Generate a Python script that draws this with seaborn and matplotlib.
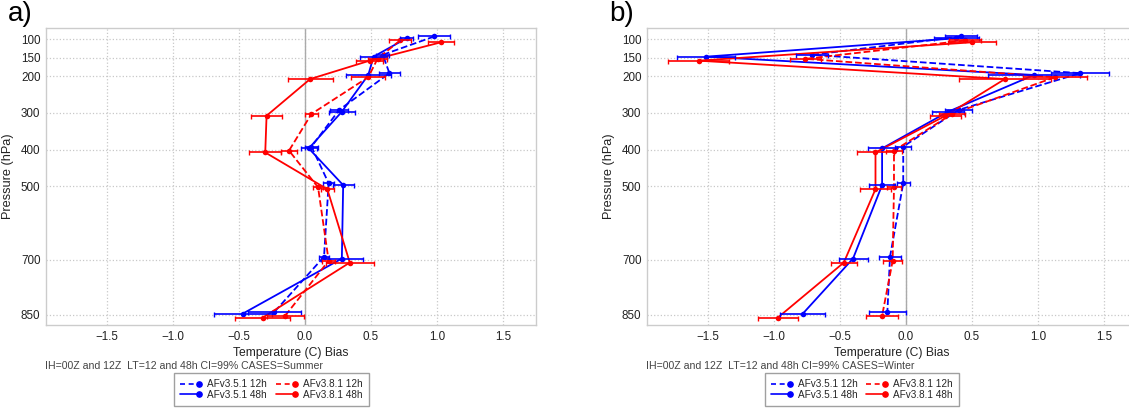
import numpy as np
import pandas as pd
import matplotlib
matplotlib.use("Agg")
import matplotlib.pyplot as plt
import seaborn as sns
from matplotlib.lines import Line2D
from matplotlib.legend_handler import HandlerBase

# ---------------- data ----------------
levels = [100, 150, 200, 300, 400, 500, 700, 850]
level_labels = ["100", "150", "200", "300", "400", "500", "700", "850"]
x_ticks = [-1.5, -1.0, -0.5, 0.0, 0.5, 1.0, 1.5]

series_names = ["AFv3.5.1 12h", "AFv3.5.1 48h", "AFv3.8.1 12h", "AFv3.8.1 48h"]

# Summer (panel a)
summer_v351_12 = [0.98, 0.59, 0.64, 0.26, 0.05, 0.18, 0.145, -0.23]
summer_v351_48 = [0.77, 0.52, 0.48, 0.28, 0.03, 0.29, 0.28, -0.47]
summer_v381_12 = [0.72, 0.55, 0.48, 0.05, -0.12, 0.10, 0.18, -0.15]
summer_v381_48 = [1.03, 0.49, 0.04, -0.29, -0.30, 0.17, 0.34, -0.32]
summer_v351_12_ci = [0.12, 0.05, 0.08, 0.07, 0.05, 0.04, 0.04, 0.20]
summer_v351_48_ci = [0.05, 0.10, 0.17, 0.10, 0.06, 0.08, 0.16, 0.22]
summer_v381_12_ci = [0.08, 0.07, 0.13, 0.05, 0.06, 0.04, 0.05, 0.14]
summer_v381_48_ci = [0.10, 0.10, 0.17, 0.12, 0.12, 0.05, 0.18, 0.21]

# Winter (panel b)
winter_v351_12 = [0.42, -0.71, 1.32, 0.40, -0.02, -0.02, -0.12, -0.14]
winter_v351_48 = [0.38, -1.51, 0.97, 0.32, -0.18, -0.18, -0.40, -0.78]
winter_v381_12 = [0.45, -0.76, 1.13, 0.35, -0.09, -0.09, -0.10, -0.18]
winter_v381_48 = [0.50, -1.57, 0.75, 0.30, -0.23, -0.23, -0.47, -0.97]
winter_v351_12_ci = [0.12, 0.12, 0.22, 0.10, 0.06, 0.05, 0.08, 0.14]
winter_v351_48_ci = [0.17, 0.22, 0.35, 0.12, 0.11, 0.10, 0.11, 0.17]
winter_v381_12_ci = [0.12, 0.12, 0.24, 0.10, 0.06, 0.05, 0.07, 0.12]
winter_v381_48_ci = [0.18, 0.23, 0.35, 0.12, 0.14, 0.12, 0.10, 0.15]

captions = ["IH=00Z and 12Z  LT=12 and 48h CI=99% CASES=Summer",
            "IH=00Z and 12Z  LT=12 and 48h CI=99% CASES=Winter"]
panel_tags = ["a)", "b)"]

# ---------------- style ----------------
sns.set_theme(style="white")
plt.rcParams["font.family"] = ["Liberation Sans", "DejaVu Sans"]

colors = {"AFv3.5.1 12h": "#0000ff", "AFv3.5.1 48h": "#0000ff",
          "AFv3.8.1 12h": "#ff0000", "AFv3.8.1 48h": "#ff0000"}
dashed = {"AFv3.5.1 12h": True, "AFv3.5.1 48h": False,
          "AFv3.8.1 12h": True, "AFv3.8.1 48h": False}
p_offset = {"AFv3.5.1 12h": -8, "AFv3.5.1 48h": -3,
            "AFv3.8.1 12h": 3, "AFv3.8.1 48h": 8}

panels = [
    (summer_v351_12, summer_v351_48, summer_v381_12, summer_v381_48,
     summer_v351_12_ci, summer_v351_48_ci, summer_v381_12_ci, summer_v381_48_ci),
    (winter_v351_12, winter_v351_48, winter_v381_12, winter_v381_48,
     winter_v351_12_ci, winter_v351_48_ci, winter_v381_12_ci, winter_v381_48_ci),
]

W, H = 1129, 409
fig = plt.figure(figsize=(W / 100, H / 100), dpi=100)
ax_rects = [[46 / W, (H - 325) / H, 490 / W, 297 / H],
            [647 / W, (H - 325) / H, 490 / W, 297 / H]]
legend_centers = [271.5 / W, 861.7 / W]
tag_pos = [(8 / W, 1 - 1 / H), (609 / W, 1 - 1 / H)]


class EndMarkerHandler(HandlerBase):
    def create_artists(self, legend, orig, xdescent, ydescent, width, height,
                       fontsize, trans):
        y = height / 2 - ydescent
        ln = Line2D([-xdescent, width - xdescent], [y, y], color=orig.get_color(),
                    linestyle=orig.get_linestyle(), linewidth=orig.get_linewidth(),
                    transform=trans)
        if orig.get_linestyle() in ("--", "dashed"):
            ln.set_dashes((3, 2.2))
        mk = Line2D([width - xdescent], [y], marker="o", markersize=3.8,
                    color=orig.get_color(), linestyle="none", transform=trans)
        return [ln, mk]


for i, pdata in enumerate(panels):
    ax = fig.add_axes(ax_rects[i])
    vals = pdata[:4]
    cis = pdata[4:]
    for name, v, ci in zip(series_names, vals, cis):
        df = pd.DataFrame({"bias": v, "p": np.array(levels, float) + p_offset[name]})
        sns.lineplot(data=df, x="bias", y="p", orient="y", sort=True, ax=ax,
                     color=colors[name], linewidth=1.3, marker="o", markersize=4,
                     markeredgewidth=0, dashes=(3, 2.2) if dashed[name] else "",
                     linestyle="--" if dashed[name] else "-", legend=False)
        ax.errorbar(df["bias"], df["p"], xerr=ci, fmt="none", ecolor=colors[name],
                    elinewidth=1.2, capsize=1.8, capthick=1.0, zorder=3)

    ax.axvline(0, color="#aaaaaa", linewidth=1.0, zorder=1)
    ax.set_xlim(-1.96, 1.75)
    ax.set_ylim(878, 69)
    ax.set_yticks(levels)
    ax.set_yticklabels(level_labels)
    ax.set_xticks(x_ticks)
    ax.grid(True, which="major", color="#c8c8c8", linestyle=":", linewidth=0.9)
    ax.tick_params(axis="both", length=0, labelsize=8.4, colors="#222222", pad=4)
    for sp in ax.spines.values():
        sp.set_color("#cccccc")
        sp.set_linewidth(1.0)
    ax.set_xlabel("Temperature (C) Bias", fontsize=8.7, color="#222222", labelpad=3)
    ax.set_ylabel("Pressure (hPa)", fontsize=9.2, color="#222222", labelpad=5)

    ax.text(-0.003, -0.121, captions[i], transform=ax.transAxes, fontsize=7.6,
            color="#444444", ha="left", va="top")
    fig.text(tag_pos[i][0], tag_pos[i][1], panel_tags[i], fontsize=20,
             color="black", ha="left", va="top")

    handles = [Line2D([], [], color=colors[n], linewidth=1.2,
                      linestyle="--" if dashed[n] else "-") for n in series_names]
    leg = fig.legend(handles, series_names,
                     handler_map={Line2D: EndMarkerHandler()},
                     loc="upper center", bbox_to_anchor=(legend_centers[i], 1 - 373 / H),
                     ncol=2, fontsize=7.2, frameon=True, fancybox=False,
                     handlelength=1.9, handletextpad=0.8, columnspacing=0.9,
                     labelspacing=0.05, borderpad=0.6, borderaxespad=0)
    leg.get_frame().set_edgecolor("#888888")
    leg.get_frame().set_linewidth(1.0)

fig.savefig("out.png", dpi=100)
